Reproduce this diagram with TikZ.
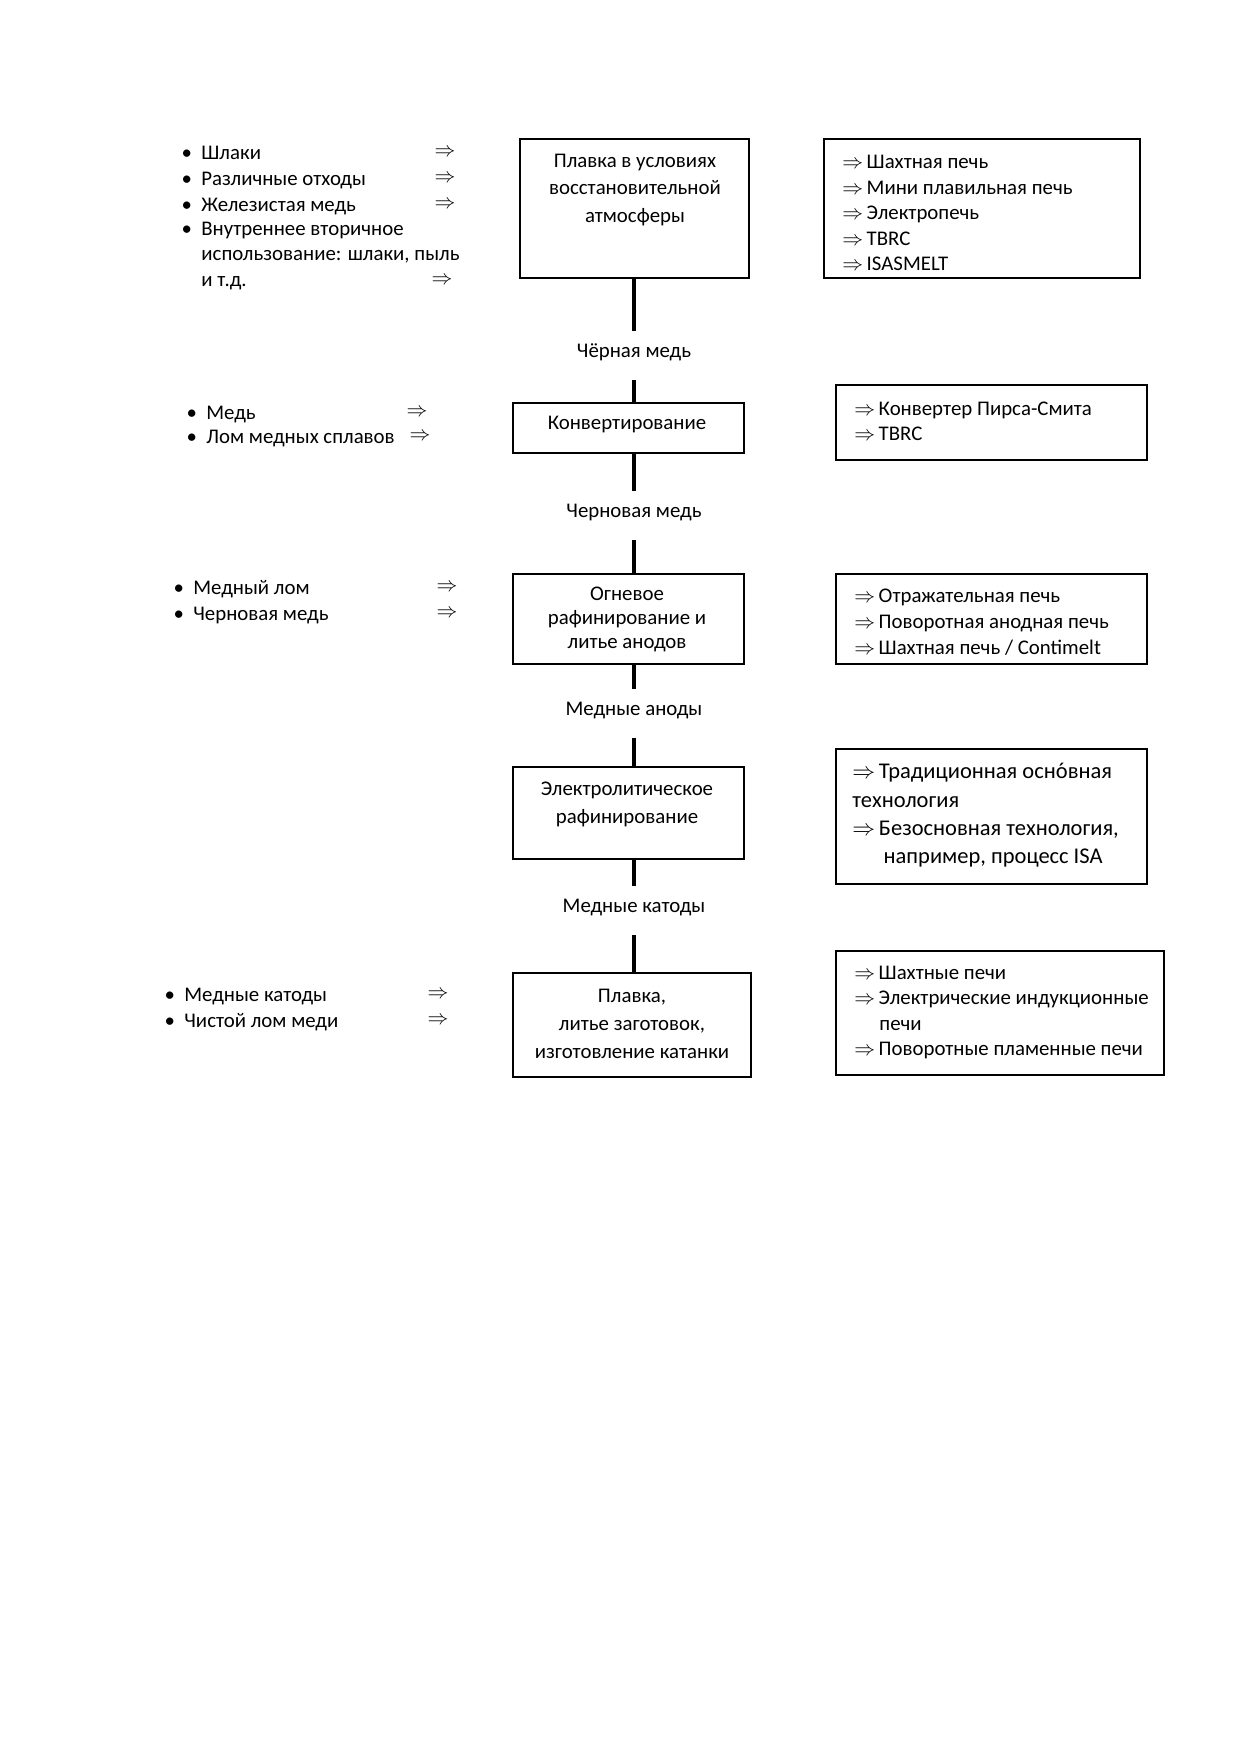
\documentclass[tikz,border=0pt]{standalone}
\usepackage{fontspec}
\setmainfont{Carlito}
\usepackage{tikz}
\newcommand{\rarr}{$\Rightarrow$\,}
\newcommand{\itm}{\leavevmode\llap{\textbullet\hspace{4.5pt}}}

\begin{document}
\begin{tikzpicture}[x=0.48pt,y=-0.48pt,
	stepbox/.style={draw,line width=0.7pt,inner sep=0pt},
	steptext/.style={align=center,inner sep=0pt},
	sidetext/.style={anchor=west,align=left,inner sep=0pt},
	flowlabel/.style={anchor=base,inner sep=0pt,text height=12.5pt,text depth=11pt,font=\fontsize{10}{12}\selectfont},
	flowline/.style={line width=2.2pt},
	item/.style={anchor=west,inner sep=0pt,text height=7pt,text depth=1pt,font=\fontsize{10}{12.3}\selectfont},
	feed/.style={inner sep=0pt}]
	\useasboundingbox (0,0) rectangle (1240,1754);

	\node[stepbox,minimum width=110pt,minimum height=66.7pt] (b1) at (634.5,208.5) {};
	\node[stepbox,minimum width=111pt,minimum height=24pt] (b2) at (628.5,428) {};
	\node[stepbox,minimum width=111pt,minimum height=43.2pt] (b3) at (628.5,619) {};
	\node[stepbox,minimum width=111pt,minimum height=44pt] (b4) at (628.5,813) {};
	\node[stepbox,minimum width=114.2pt,minimum height=50pt] (b5) at (632,1025) {};

	\node[steptext,font=\fontsize{10}{13.2}\selectfont] (t1) at (635,190) {Плавка в условиях\\восстановительной\\атмосферы};
	\node[steptext,font=\fontsize{10}{12}\selectfont] (t2) at (627,424) {Конвертирование};
	\node[steptext,font=\fontsize{10}{11.5}\selectfont] (t3) at (627,619) {Огневое\\рафинирование и\\литье анодов};
	\node[steptext,font=\fontsize{10}{13.4}\selectfont] (t4) at (627,804) {Электролитическое\\рафинирование};
	\node[steptext,font=\fontsize{10}{13.4}\selectfont] (t5) at (632,1024) {Плавка,\\литье заготовок,\\изготовление катанки};

	\node[flowlabel] (l1) at (634,357) {Чёрная медь};
	\node[flowlabel] (l2) at (634,517) {Черновая медь};
	\node[flowlabel] (l3) at (634,715) {Медные аноды};
	\node[flowlabel] (l4) at (634,912) {Медные катоды};

	\foreach \i/\j in {1/2,2/3,3/4,4/5}{
		\draw[flowline] (b\i.south -| l\i) -- (l\i);
		\draw[flowline] (l\i) -- (l\i |- b\j.north);
	}

	\node[stepbox,minimum width=151.7pt,minimum height=66.7pt] (r1) at (982,208.5) {};
	\node[stepbox,minimum width=149.3pt,minimum height=36pt] (r2) at (991.5,422.5) {};
	\node[stepbox,minimum width=149.3pt,minimum height=43.2pt] (r3) at (991.5,619) {};
	\node[stepbox,minimum width=149.3pt,minimum height=64.8pt] (r4) at (991.5,816.5) {};
	\node[stepbox,minimum width=157.4pt,minimum height=59.5pt] (r5) at (1000,1013) {};

	\node[sidetext,font=\fontsize{10}{12.2}\selectfont] (rt1) at (842,213) {\rarr Шахтная печь\\\rarr Мини плавильная печь\\\rarr Электропечь\\\rarr TBRC\\\rarr ISASMELT};
	\node[sidetext,font=\fontsize{10}{12}\selectfont] (rt2) at (854,421.5) {\rarr Конвертер Пирса-Смита\\\rarr TBRC};
	\node[sidetext,font=\fontsize{10}{12.5}\selectfont] (rt3) at (854,622) {\rarr Отражательная печь\\\rarr Поворотная анодная печь\\\rarr Шахтная печь / Contimelt};
	\node[sidetext,font=\fontsize{10.8}{13.6}\selectfont] (rt4) at (852,815.5) {\rarr Традиционная осн\accent"00B4 овная\\технология\\\rarr Безосновная технология,\\\hspace*{15pt}например, процесс ISA};
	\node[sidetext,font=\fontsize{10}{12.3}\selectfont] (rt5) at (854,1012.5) {\rarr Шахтные печи\\\rarr Электрические индукционные\\\hspace*{12pt}печи\\\rarr Поворотные пламенные печи};

	\foreach \txt/\y [count=\i] in {Шлаки/153,Различные отходы/179,Железистая медь/205}{
		\node[item] (s1-\i) at (201,\y) {\itm\txt};
		\node[feed] (a1-\i) at (445,\y) {$\Rightarrow$};
	}
	\node[sidetext,font=\fontsize{10}{12.3}\selectfont] (s1-4) at (201,256) {\itm Внутреннее вторичное\\использование: шлаки, пыль\\и т.д.};
	\node[feed] (a1-4) at (442,281) {$\Rightarrow$};

	\foreach \txt/\y/\x [count=\i] in {Медь/413/417,Лом медных сплавов/437/420}{
		\node[item] (s2-\i) at (206,\y) {\itm\txt};
		\node[feed] (a2-\i) at (\x,\y) {$\Rightarrow$};
	}
	\foreach \txt/\y [count=\i] in {Медный лом/588,Черновая медь/614}{
		\node[item] (s3-\i) at (193,\y) {\itm\txt};
		\node[feed] (a3-\i) at (447,\y) {$\Rightarrow$};
	}
	\foreach \txt/\y [count=\i] in {Медные катоды/995,Чистой лом меди/1021}{
		\node[item] (s5-\i) at (184,\y) {\itm\txt};
		\node[feed] (a5-\i) at (438,\y) {$\Rightarrow$};
	}
\end{tikzpicture}
\end{document}
